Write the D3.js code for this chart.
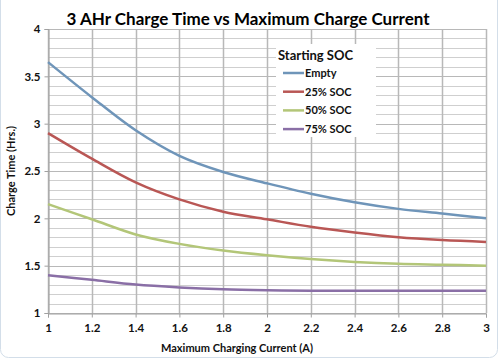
<!DOCTYPE html>
<html><head><meta charset="utf-8">
<script src="https://cdn.jsdelivr.net/npm/d3@7"></script>
<style>body{margin:0;background:#fff}svg{display:block}</style>
</head><body>
<script>
const xValues = [1, 1.2, 1.4, 1.6, 1.8, 2, 2.2, 2.4, 2.6, 2.8, 3];
const seriesNames = ["Empty", "25% SOC", "50% SOC", "75% SOC"];
const empty = [3.65, 3.28, 2.93, 2.66, 2.49, 2.37, 2.26, 2.17, 2.10, 2.05, 2.00];
const soc25 = [2.90, 2.63, 2.38, 2.20, 2.07, 1.99, 1.91, 1.85, 1.80, 1.77, 1.75];
const soc50 = [2.15, 1.99, 1.83, 1.73, 1.66, 1.61, 1.57, 1.54, 1.52, 1.51, 1.50];
const soc75 = [1.40, 1.35, 1.30, 1.27, 1.25, 1.24, 1.235, 1.235, 1.235, 1.235, 1.235];
const xTicks = [1, 1.2, 1.4, 1.6, 1.8, 2, 2.2, 2.4, 2.6, 2.8, 3];
const yTicks = [1, 1.5, 2, 2.5, 3, 3.5, 4];
const colors = ["#6f95b9", "#b95755", "#b3c678", "#8a6fa6"];

const W = 498, H = 359;
const svg = d3.select("body").append("svg").attr("width", W).attr("height", H);
const font = "Lato, 'Open Sans', sans-serif";

svg.append("rect").attr("x", 0.5).attr("y", -8).attr("width", W - 1).attr("height", H - 1.5 + 8)
  .attr("rx", 8).attr("fill", "#fff").attr("stroke", "#d3dee9").attr("stroke-width", 1);

const x = d3.scaleLinear().domain([1, 3]).range([48, 486]);
const y = d3.scaleLinear().domain([1, 4]).range([313, 29]);

// minor horizontal grid
const minor = d3.range(10, 41).map(d => d / 10);
svg.append("g").selectAll("line").data(minor).join("line")
  .attr("x1", x(1)).attr("x2", x(3))
  .attr("y1", d => Math.round(y(d)) + 0.5).attr("y2", d => Math.round(y(d)) + 0.5)
  .attr("stroke", "#cfcfcf").attr("stroke-width", 1);
svg.append("g").selectAll("line").data(yTicks).join("line")
  .attr("x1", x(1)).attr("x2", x(3))
  .attr("y1", d => Math.round(y(d)) + 0.5).attr("y2", d => Math.round(y(d)) + 0.5)
  .attr("stroke", "#b8b8b8").attr("stroke-width", 1);
svg.append("g").selectAll("line").data(xTicks).join("line")
  .attr("x1", d => Math.round(x(d)) + 0.5).attr("x2", d => Math.round(x(d)) + 0.5)
  .attr("y1", y(4)).attr("y2", y(1))
  .attr("stroke", "#b8b8b8").attr("stroke-width", 1.5);

// axes
const xAxis = svg.append("g").attr("transform", `translate(0,${Math.round(y(1)) + 0.5})`)
  .call(d3.axisBottom(x).tickValues(xTicks).tickFormat(d3.format("")).tickSize(4).tickPadding(6));
const yAxis = svg.append("g").attr("transform", `translate(${Math.round(x(1)) + 0.5},0)`)
  .call(d3.axisLeft(y).tickValues(yTicks).tickFormat(d3.format("")).tickSize(4).tickPadding(4));
[xAxis, yAxis].forEach(a => {
  a.select(".domain").attr("stroke", "#a0a0a0");
  a.selectAll(".tick line").attr("stroke", "#a0a0a0");
  a.selectAll("text").attr("font-family", font).attr("font-weight", "bold")
    .attr("font-size", 11.5).attr("fill", "#111");
});

// lines
const data = [empty, soc25, soc50, soc75];
const line = d3.line().x((d, i) => x(xValues[i])).y(d => y(d)).curve(d3.curveCatmullRom.alpha(0.5));
svg.append("g").selectAll("path").data(data).join("path")
  .attr("d", d => line(d)).attr("fill", "none")
  .attr("stroke", (d, i) => colors[i]).attr("stroke-width", 2.5);

// title
svg.append("text").attr("x", 248).attr("y", 25).attr("text-anchor", "middle")
  .attr("font-family", font).attr("font-weight", "bold").attr("font-size", 17)
  .attr("fill", "#000").text("3 AHr Charge Time vs Maximum Charge Current");

// axis titles
svg.append("text").attr("x", 237).attr("y", 352).attr("text-anchor", "middle")
  .attr("font-family", font).attr("font-weight", "bold").attr("font-size", 11)
  .attr("fill", "#111").text("Maximum Charging Current (A)");
svg.append("text").attr("transform", "translate(15,171) rotate(-90)").attr("text-anchor", "middle")
  .attr("font-family", font).attr("font-weight", "bold").attr("font-size", 11)
  .attr("fill", "#111").text("Charge Time (Hrs.)");

// legend
const lg = svg.append("g");
lg.append("rect").attr("x", 276).attr("y", 44).attr("width", 100).attr("height", 93).attr("fill", "#fff");
lg.append("text").attr("x", 278).attr("y", 60).attr("font-family", font).attr("font-weight", "bold")
  .attr("font-size", 13).attr("fill", "#111").text("Starting SOC");
seriesNames.forEach((n, i) => {
  const cy = 73 + i * 18.7;
  lg.append("line").attr("x1", 283).attr("x2", 304).attr("y1", cy).attr("y2", cy)
    .attr("stroke", colors[i]).attr("stroke-width", 2.5);
  lg.append("text").attr("x", 305).attr("y", cy + 4).attr("font-family", font).attr("font-weight", "bold")
    .attr("font-size", 11).attr("fill", "#111").text(n);
});
</script>
</body></html>
